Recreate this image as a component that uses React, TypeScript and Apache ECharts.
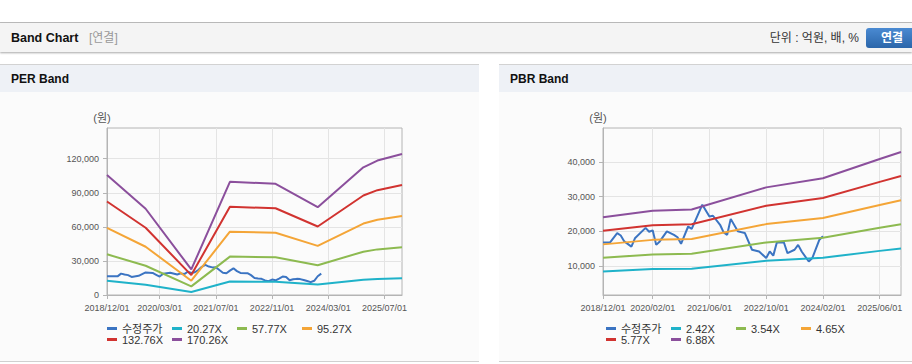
import React, { useEffect, useRef } from 'react';
import * as echarts from 'echarts';

// ---------- data ----------
const seriesNamesPER = ['수정주가', '20.27X', '57.77X', '95.27X', '132.76X', '170.26X'];
const seriesNamesPBR = ['수정주가', '2.42X', '3.54X', '4.65X', '5.77X', '6.88X'];
const seriesColors = ['#3b74c2', '#1fb2c9', '#8dba50', '#f4a537', '#d13330', '#8b4f9c'];

const perTickLabels = ['2018/12/01', '2020/03/01', '2021/07/01', '2022/11/01', '2024/03/01', '2025/07/01'];
const pbrTickLabels = ['2018/12/01', '2020/02/01', '2021/06/01', '2022/10/01', '2024/02/01', '2025/06/01'];
const perYTicks = [0, 30000, 60000, 90000, 120000];
const pbrYTicks = [10000, 20000, 30000, 40000];

// PER band key points
const perBandDates = ['2018/12/01', '2019/11/01', '2020/12/01', '2021/11/01', '2022/12/01', '2023/12/01', '2025/01/01', '2025/05/01', '2025/12/01'];
const perBand1 = [12567, 9040, 2676, 11858, 11655, 9203, 13378, 14088, 14777];
const perBand2 = [35817, 25765, 7626, 33795, 33218, 26228, 38128, 40150, 42114];
const perBand3 = [59067, 42490, 12576, 55733, 54780, 43253, 62878, 66213, 69452];
const perBand4 = [82311, 59211, 17524, 77665, 76337, 60273, 87622, 92268, 96782];
const perBand5 = [105561, 75936, 22474, 99602, 97900, 77298, 112372, 118331, 124120];

// PER chart adjusted price
const perPriceDates = ['2018/12/01', '2019/03/01', '2019/04/01', '2019/05/01', '2019/06/01', '2019/07/01', '2019/09/01', '2019/11/01', '2020/01/01', '2020/02/01', '2020/03/01', '2020/04/01', '2020/06/01', '2020/08/01', '2020/09/01', '2020/10/01', '2020/11/01', '2020/12/01', '2021/01/01', '2021/02/01', '2021/03/01', '2021/04/01', '2021/05/01', '2021/06/01', '2021/07/01', '2021/08/01', '2021/09/01', '2021/10/01', '2021/11/01', '2021/12/01', '2022/01/01', '2022/02/01', '2022/04/01', '2022/05/01', '2022/06/01', '2022/07/01', '2022/08/01', '2022/09/01', '2022/10/01', '2022/11/01', '2022/12/01', '2023/01/01', '2023/02/01', '2023/03/01', '2023/04/01', '2023/05/01', '2023/06/01', '2023/07/01', '2023/08/01', '2023/09/01', '2023/10/01', '2023/11/01', '2023/12/01', '2024/01/01'];
const perPrice = [16400, 16400, 18800, 18000, 17500, 15900, 16900, 19900, 19400, 17800, 16200, 18800, 19600, 18000, 19000, 18400, 20500, 19400, 20000, 22000, 24800, 26500, 25000, 24300, 24500, 22000, 19600, 19200, 21500, 23500, 21000, 19400, 19200, 17500, 15000, 14500, 14200, 12800, 12200, 13600, 12900, 14500, 16200, 15800, 13000, 13800, 14200, 14000, 13200, 12300, 11300, 12500, 16500, 18800];

// PBR band key points
const pbrBandDates = ['2018/12/01', '2020/02/01', '2021/01/01', '2022/10/01', '2024/02/01', '2025/06/01', '2025/12/01'];
const pbrBand1 = [8455, 9131, 9252, 11495, 12415, 14372, 15084];
const pbrBand2 = [12369, 13356, 13533, 16815, 18160, 21024, 22065];
const pbrBand3 = [16247, 17544, 17777, 22088, 23855, 27616, 28983];
const pbrBand4 = [20160, 21770, 22059, 27408, 29600, 34268, 35964];
const pbrBand5 = [24039, 25958, 26302, 32680, 35294, 40860, 42883];

// PBR chart adjusted price
const pbrPriceDates = ['2018/12/01', '2019/02/01', '2019/04/01', '2019/05/01', '2019/06/01', '2019/08/01', '2019/09/01', '2019/12/01', '2020/01/01', '2020/02/01', '2020/03/01', '2020/04/01', '2020/06/01', '2020/08/01', '2020/09/01', '2020/10/01', '2020/12/01', '2021/01/01', '2021/04/01', '2021/06/01', '2021/07/01', '2021/09/01', '2021/10/01', '2021/11/01', '2021/12/01', '2022/02/01', '2022/04/01', '2022/06/01', '2022/08/01', '2022/10/01', '2022/11/01', '2022/12/01', '2023/01/01', '2023/03/01', '2023/04/01', '2023/06/01', '2023/07/01', '2023/08/01', '2023/10/01', '2023/11/01', '2024/01/01', '2024/02/01'];
const pbrPrice = [16800, 16800, 19500, 18800, 17100, 15600, 18000, 21000, 19900, 20300, 16100, 17100, 20000, 19000, 18300, 16400, 21400, 20700, 27700, 24300, 24500, 21900, 19700, 19000, 23600, 20000, 19500, 14700, 14200, 12300, 14200, 13000, 16800, 16800, 13700, 14700, 16100, 14200, 11300, 12300, 17600, 18600];

// ---------- helpers ----------
const FONT = '"Liberation Sans", Arial, "Noto Sans CJK KR", sans-serif';

function monthCategories(startY: number, startM: number, endY: number, endM: number) {
  const out: string[] = [];
  let y = startY, m = startM;
  while (y < endY || (y === endY && m <= endM)) {
    out.push(`${y}/${String(m).padStart(2, '0')}/01`);
    m++;
    if (m > 12) { m = 1; y++; }
  }
  return out;
}
const months = monthCategories(2018, 12, 2025, 12);

function pairs(dates: string[], values: number[]) {
  return dates.map((d, i) => [d, values[i]]);
}

type Cfg = {
  names: string[];
  priceDates: string[];
  price: number[];
  bandDates: string[];
  bands: number[][];
  tickLabels: string[];
  yMin: number;
  yMax: number;
  yTicks: number[];
  gridLeft: number;
  gridWidth: number;
};

function buildOption(c: Cfg) {
  const showTick = (_i: number, v: string) => c.tickLabels.indexOf(v) >= 0;
  const series: any[] = [];
  series.push({
    name: c.names[0], type: 'line', symbol: 'none', smooth: false,
    lineStyle: { width: 2, color: seriesColors[0] }, itemStyle: { color: seriesColors[0] },
    data: pairs(c.priceDates, c.price),
  });
  c.bands.forEach((b, i) => {
    series.push({
      name: c.names[i + 1], type: 'line', symbol: 'none',
      lineStyle: { width: 2, color: seriesColors[i + 1] }, itemStyle: { color: seriesColors[i + 1] },
      data: pairs(c.bandDates, b),
    });
  });
  return {
    animation: false,
    backgroundColor: 'transparent',
    textStyle: { fontFamily: FONT },
    grid: {
      left: c.gridLeft, top: 36, width: c.gridWidth, height: 167,
      show: true, borderColor: '#b4b4b4', borderWidth: 1, backgroundColor: 'transparent',
    },
    legend: {
      left: 107, top: 231, width: 262, padding: 0,
      itemWidth: 10, itemHeight: 3, itemGap: 0, icon: 'rect',
      textStyle: { fontSize: 11, color: '#333', width: 50, lineHeight: 11, fontFamily: FONT },
      data: c.names,
    },
    xAxis: {
      type: 'category', data: months, boundaryGap: false,
      axisLine: { lineStyle: { color: '#b4b4b4' } },
      axisTick: { show: true, interval: showTick, length: 4, lineStyle: { color: '#b4b4b4' } },
      axisLabel: { interval: showTick, color: '#555', fontSize: 9, margin: 8, fontFamily: FONT },
      splitLine: { show: true, interval: showTick, lineStyle: { color: '#e4e4e4' } },
    },
    yAxis: {
      type: 'value', min: c.yMin, max: c.yMax,
      name: '(원)', nameLocation: 'end', nameGap: 5,
      nameTextStyle: { color: '#555', fontSize: 11, align: 'center', verticalAlign: 'bottom', padding: [0, 10, 0, 0], fontFamily: FONT },
      axisLine: { show: true, lineStyle: { color: '#b4b4b4' } },
      axisTick: { show: true, length: 4, customValues: c.yTicks, lineStyle: { color: '#b4b4b4' } },
      axisLabel: { customValues: c.yTicks, color: '#555', fontSize: 9, margin: 8, fontFamily: FONT },
      splitLine: { show: true, lineStyle: { color: '#e4e4e4' } },
    },
    series,
  };
}

function Chart({ option, style }: { option: any; style: React.CSSProperties }) {
  const ref = useRef<HTMLDivElement>(null);
  useEffect(() => {
    if (!ref.current) return;
    const chart = echarts.init(ref.current, undefined, { renderer: 'svg' });
    chart.setOption(option);
    return () => chart.dispose();
  }, [option]);
  return <div ref={ref} style={style} />;
}

const perOption = buildOption({
  names: seriesNamesPER, priceDates: perPriceDates, price: perPrice,
  bandDates: perBandDates, bands: [perBand1, perBand2, perBand3, perBand4, perBand5],
  tickLabels: perTickLabels, yMin: 0, yMax: 147000, yTicks: perYTicks,
  gridLeft: 107, gridWidth: 295,
});
const pbrOption = buildOption({
  names: seriesNamesPBR, priceDates: pbrPriceDates, price: pbrPrice,
  bandDates: pbrBandDates, bands: [pbrBand1, pbrBand2, pbrBand3, pbrBand4, pbrBand5],
  tickLabels: pbrTickLabels, yMin: 1650, yMax: 49800, yTicks: pbrYTicks,
  gridLeft: 104, gridWidth: 298,
});

function Panel({ left, width, title, option }: { left: number; width: number; title: string; option: any }) {
  return (
    <div style={{ position: 'absolute', left, top: 64, width, height: 298, borderTop: '1px solid #d2d2d2', borderBottom: '1px solid #d0d0d0', background: '#fbfbfb', boxSizing: 'border-box' }}>
      <div style={{ position: 'absolute', left: 0, top: 0, width, height: 27, background: '#eef1f6' }}>
        <span style={{ position: 'absolute', left: 11, top: 0, lineHeight: '29px', fontSize: 12, fontWeight: 'bold', color: '#111', fontFamily: FONT }}>{title}</span>
      </div>
      <Chart option={option} style={{ position: 'absolute', left: 0, top: 27, width, height: 270 }} />
    </div>
  );
}

export default function App() {
  return (
    <div style={{ position: 'absolute', left: 0, top: 0, width: 912, height: 364, background: '#fff', overflow: 'hidden', fontFamily: FONT }}>
      <div style={{ position: 'absolute', left: 0, top: 22, width: 912, height: 1, background: '#bdbdbd' }} />
      <div style={{ position: 'absolute', left: 0, top: 23, width: 912, height: 29, background: '#f4f4f4', boxShadow: '0 1px 2px rgba(0,0,0,0.35)' }}>
        <span style={{ position: 'absolute', left: 11, top: 0, lineHeight: '30px', fontSize: 12.5, fontWeight: 'bold', color: '#111' }}>Band Chart</span>
        <span style={{ position: 'absolute', left: 89, top: 0, lineHeight: '30px', fontSize: 12, color: '#999' }}>[연결]</span>
        <span style={{ position: 'absolute', right: 53, top: 0, lineHeight: '31px', fontSize: 12, color: '#333' }}>단위 : 억원, 배, %</span>
        <div style={{ position: 'absolute', left: 866, top: 5, width: 52, height: 20, borderRadius: 3, background: 'linear-gradient(#4a8ad2, #2b66aa)', color: '#fff', fontWeight: 'bold', fontSize: 12, lineHeight: '20px', textAlign: 'center' }}>연결</div>
      </div>
      <Panel left={0} width={479} title="PER Band" option={perOption} />
      <Panel left={499} width={413} title="PBR Band" option={pbrOption} />
    </div>
  );
}
